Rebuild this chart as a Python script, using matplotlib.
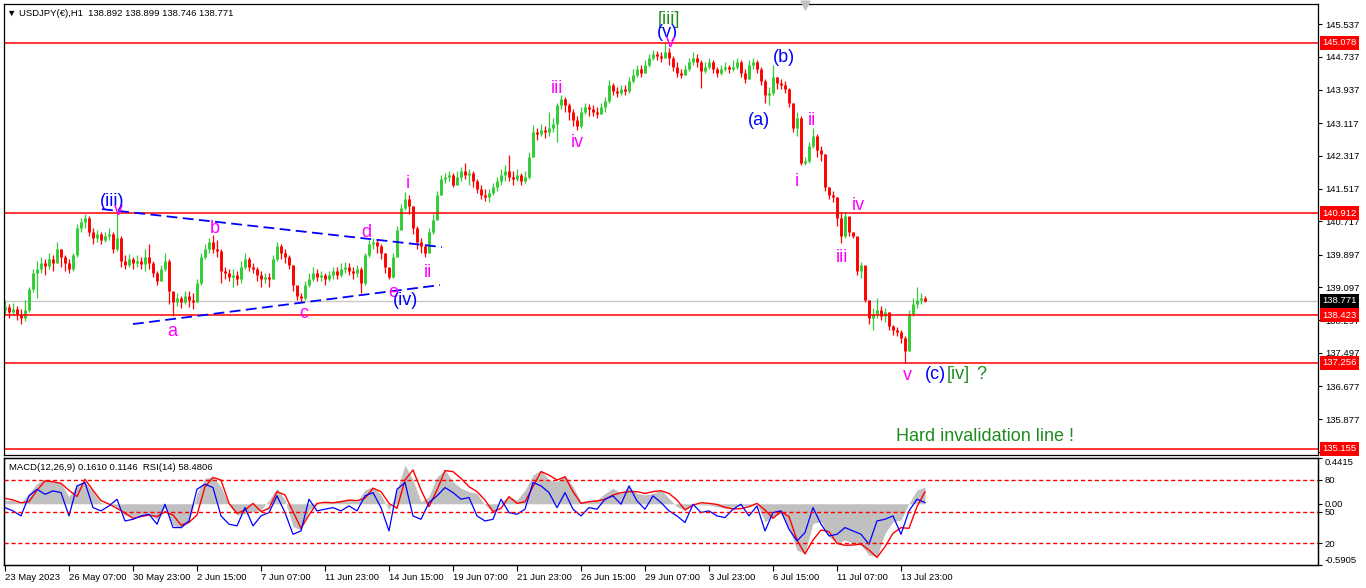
import numpy as np
import matplotlib.pyplot as plt
from matplotlib import transforms

plt.rcParams['font.family'] = ['Liberation Sans', 'DejaVu Sans']

# USDJPY H1 (one bar per ~4 screen px)
first_open = 138.55
close = [138.62, 138.50, 138.58, 138.46, 138.35, 138.55, 139.05, 139.45, 139.55, 139.70,
         139.62, 139.80, 139.70, 140.05, 139.85, 139.70, 139.55, 139.90, 140.55, 140.70,
         140.80, 140.45, 140.30, 140.40, 140.25, 140.35, 140.40, 140.05, 140.30, 139.75,
         139.65, 139.80, 139.70, 139.75, 139.68, 139.85, 139.70, 139.45, 139.25, 139.55,
         139.75, 139.00, 138.75, 138.85, 138.75, 138.90, 138.80, 138.75, 139.20, 139.85,
         140.05, 140.20, 140.05, 140.00, 139.50, 139.45, 139.35, 139.40, 139.30, 139.60,
         139.80, 139.60, 139.55, 139.40, 139.30, 139.35, 139.30, 139.80, 140.10, 139.95,
         139.85, 139.65, 139.15, 138.90, 138.85, 139.15, 139.30, 139.45, 139.35, 139.40,
         139.30, 139.40, 139.50, 139.40, 139.55, 139.60, 139.50, 139.45, 139.55, 139.20,
         139.90, 140.15, 140.20, 140.10, 139.95, 139.60, 139.35, 139.85, 140.50, 141.05,
         141.25, 141.10, 140.55, 140.20, 140.10, 139.95, 140.45, 140.75, 141.35, 141.75,
         141.80, 141.85, 141.60, 141.80, 141.95, 141.85, 141.90, 141.70, 141.50, 141.35,
         141.30, 141.40, 141.55, 141.70, 141.85, 141.95, 141.80, 141.75, 141.85, 141.70,
         141.80, 142.30, 142.90, 142.85, 142.95, 142.90, 143.00, 143.10, 143.55, 143.70,
         143.55, 143.40, 143.20, 143.05, 143.40, 143.50, 143.45, 143.40, 143.35, 143.50,
         143.65, 144.05, 143.90, 143.85, 143.95, 143.90, 144.15, 144.30, 144.45, 144.35,
         144.55, 144.70, 144.80, 144.75, 144.70, 144.85, 144.70, 144.50, 144.35, 144.30,
         144.45, 144.60, 144.70, 144.60, 144.40, 144.50, 144.60, 144.45, 144.35, 144.45,
         144.50, 144.45, 144.50, 144.60, 144.35, 144.20, 144.55, 144.60, 144.45, 144.15,
         143.80, 143.85, 144.25, 144.10, 144.05, 143.95, 143.60, 143.00, 143.25, 142.15,
         142.20, 142.55, 142.80, 142.45, 142.35, 141.55, 141.35, 141.30, 140.80, 140.35,
         140.85, 140.45, 140.35, 139.50, 139.65, 138.80, 138.35, 138.45, 138.55, 138.40,
         138.50, 138.15, 138.05, 138.00, 137.85, 137.55, 138.45, 138.70, 138.80, 138.85,
         138.77]
high = [138.80, 138.70, 138.72, 138.65, 138.58, 138.78, 139.10, 139.55, 139.75, 139.85,
        139.80, 139.95, 139.90, 140.20, 140.05, 139.90, 139.80, 139.95, 140.65, 140.80,
        140.90, 140.85, 140.55, 140.50, 140.45, 140.45, 140.55, 140.45, 140.92, 140.35,
        139.90, 139.92, 139.85, 139.90, 139.85, 140.05, 140.15, 139.75, 139.50, 139.65,
        139.95, 139.80, 138.95, 138.95, 138.90, 139.00, 139.00, 138.95, 139.30, 139.95,
        140.15, 140.30, 140.38, 140.25, 140.05, 139.60, 139.55, 139.55, 139.50, 139.75,
        139.94, 139.85, 139.70, 139.60, 139.50, 139.45, 139.45, 139.90, 140.20, 140.15,
        140.05, 139.90, 139.65, 139.10, 138.95, 139.25, 139.45, 139.60, 139.55, 139.50,
        139.45, 139.50, 139.60, 139.60, 139.70, 139.72, 139.70, 139.60, 139.65, 139.60,
        139.94, 140.25, 140.30, 140.25, 140.15, 139.95, 139.55, 139.95, 140.60, 141.15,
        141.43, 141.35, 141.10, 140.60, 140.30, 140.15, 140.55, 140.90, 141.45, 141.85,
        141.90, 141.95, 141.90, 141.95, 142.05, 142.15, 142.00, 141.95, 141.75, 141.60,
        141.50, 141.50, 141.65, 141.80, 142.00, 142.10, 142.33, 141.95, 142.00, 141.90,
        141.95, 142.40, 143.07, 143.00, 143.10, 143.05, 143.40, 143.25, 143.60, 143.80,
        143.75, 143.60, 143.45, 143.30, 143.50, 143.60, 143.58, 143.55, 143.50, 143.60,
        143.75, 144.17, 144.10, 144.00, 144.05, 144.05, 144.25, 144.45, 144.55, 144.55,
        144.65, 144.80, 144.90, 144.88, 144.85, 145.10, 144.95, 144.75, 144.60, 144.45,
        144.55, 144.70, 144.85, 144.80, 144.65, 144.62, 144.70, 144.65, 144.50, 144.55,
        144.60, 144.55, 144.65, 144.72, 144.65, 144.45, 144.65, 144.70, 144.65, 144.50,
        144.20, 144.00, 144.53, 144.25, 144.20, 144.15, 143.97, 143.60, 143.39, 143.30,
        142.30, 142.65, 143.00, 142.85, 142.55, 142.35, 141.55, 141.45, 141.30, 140.95,
        140.94, 140.60, 140.45, 140.30, 139.72, 139.50, 138.80, 138.60, 138.83, 138.65,
        138.60, 138.50, 138.17, 138.12, 138.05, 137.90, 138.55, 138.85, 139.10, 138.95,
        138.90]
low = [138.45, 138.35, 138.42, 138.30, 138.20, 138.28, 138.50, 138.98, 138.85, 139.45,
       139.40, 139.55, 139.50, 139.70, 139.60, 139.50, 139.45, 139.50, 139.85, 140.45,
       140.55, 140.35, 140.15, 140.20, 140.15, 140.20, 140.25, 139.95, 140.00, 139.60,
       139.55, 139.60, 139.55, 139.60, 139.55, 139.50, 139.55, 139.35, 139.15, 139.25,
       139.50, 138.70, 138.40, 138.65, 138.60, 138.70, 138.62, 138.58, 138.75, 139.15,
       139.80, 139.95, 139.95, 139.85, 139.20, 139.30, 139.25, 139.10, 139.15, 139.20,
       139.55, 139.50, 139.45, 139.25, 139.10, 139.20, 139.10, 139.30, 139.75, 139.80,
       139.70, 139.55, 139.00, 138.80, 138.74, 138.80, 139.10, 139.25, 139.25, 139.25,
       139.15, 139.25, 139.30, 139.30, 139.35, 139.45, 139.40, 139.30, 139.35, 138.96,
       139.15, 139.85, 140.05, 139.95, 139.80, 139.45, 139.30, 139.32, 139.85, 140.50,
       141.00, 140.90, 140.40, 140.05, 139.95, 139.85, 139.95, 140.40, 140.75, 141.35,
       141.65, 141.70, 141.55, 141.60, 141.70, 141.75, 141.60, 141.55, 141.40, 141.25,
       141.20, 141.19, 141.35, 141.45, 141.60, 141.70, 141.70, 141.60, 141.70, 141.60,
       141.65, 141.75, 142.30, 142.70, 142.80, 142.75, 142.80, 142.90, 142.65, 143.45,
       143.40, 143.20, 143.05, 142.94, 143.00, 143.35, 143.30, 143.30, 143.25, 143.35,
       143.40, 143.60, 143.80, 143.75, 143.80, 143.80, 143.85, 144.10, 144.25, 144.25,
       144.35, 144.50, 144.65, 144.65, 144.60, 144.70, 144.55, 144.40, 144.25, 144.22,
       144.30, 144.40, 144.55, 144.50, 143.97, 144.35, 144.45, 144.35, 144.25, 144.30,
       144.40, 144.35, 144.40, 144.45, 144.25, 144.10, 144.20, 144.45, 144.35, 144.05,
       143.60, 143.56, 143.80, 143.95, 143.95, 143.85, 143.50, 142.90, 142.80, 142.09,
       142.09, 142.15, 142.50, 142.30, 142.20, 141.45, 141.25, 141.19, 140.60, 140.18,
       140.30, 140.35, 140.30, 139.40, 139.33, 138.74, 138.20, 138.05, 138.35, 138.30,
       138.25, 138.05, 137.93, 137.90, 137.75, 137.24, 137.55, 138.40, 138.60, 138.70,
       138.75]

# indicator window, sampled every 2nd bar
macd_hist = [0.036, 0.03, 0.01, 0.10, 0.197, 0.236, 0.21, 0.197, 0.069, 0.18,
             0.21, 0.117, 0.01, 0.0, -0.03, -0.108, -0.124, -0.108, -0.09, -0.157,
             -0.03, -0.205, -0.237, -0.172, 0.10, 0.245, 0.26, 0.165, -0.012, -0.108,
             -0.092, -0.076, -0.06, 0.036, 0.15, 0.036, -0.22, -0.253, -0.06, -0.012,
             0.02, 0.02, 0.036, 0.043, 0.02, 0.133, 0.165, 0.085, -0.06, 0.133,
             0.374, 0.229, 0.02, 0.069, 0.26, 0.326, 0.213, 0.15, 0.117, 0.10,
             -0.012, -0.076, 0.02, 0.069, 0.036, 0.133, 0.277, 0.326, 0.229, 0.213,
             0.277, 0.165, 0.02, 0.036, 0.036, 0.10, 0.15, 0.10, 0.165, 0.10,
             0.085, 0.10, 0.133, 0.053, -0.028, -0.06, 0.004, -0.012, -0.012, -0.028,
             -0.044, -0.028, -0.012, -0.028, 0.004, -0.172, -0.124, -0.092, -0.237, -0.446,
             -0.478, -0.188, -0.172, -0.317, -0.382, -0.35, -0.382, -0.398, -0.494, -0.51,
             -0.285, -0.172, -0.156, 0.004, 0.133, 0.161]
macd_signal = [0.053, 0.036, 0.01, 0.02, 0.13, 0.22, 0.213, 0.197, 0.13, 0.07,
               0.236, 0.13, 0.03, -0.002, -0.044, -0.09, -0.14, -0.124, -0.108, -0.124,
               -0.076, -0.108, -0.205, -0.18, -0.108, 0.165, 0.255, 0.229, 0.004, -0.092,
               -0.06, 0.004, -0.076, -0.044, 0.117, 0.085, -0.076, -0.237, -0.108, 0.004,
               0.014, 0.01, 0.02, 0.036, 0.03, 0.053, 0.15, 0.117, 0.004, -0.044,
               0.229, 0.326, 0.133, -0.028, 0.133, 0.32, 0.31, 0.245, 0.165, 0.117,
               0.036, -0.076, -0.044, 0.069, 0.004, 0.02, 0.165, 0.31, 0.277, 0.229,
               0.26, 0.117, 0.004, 0.02, 0.027, 0.043, 0.085, 0.107, 0.117, 0.117,
               0.10, 0.117, 0.126, 0.10, 0.036, -0.06, -0.012, 0.01, 0.004, -0.006,
               -0.034, -0.05, -0.047, -0.028, 0.004, -0.06, -0.14, -0.076, -0.124, -0.35,
               -0.484, -0.35, -0.253, -0.269, -0.382, -0.40, -0.398, -0.388, -0.446, -0.517,
               -0.414, -0.285, -0.23, -0.237, -0.028, 0.115]
rsi = [53.7, 50.6, 45.8, 64.9, 71.2, 66.4, 69.6, 68.0, 45.8, 74.4,
       77.6, 53.7, 50.6, 55.3, 61.7, 41.0, 42.6, 45.8, 47.4, 37.9,
       56.9, 34.7, 34.7, 41.0, 71.2, 76.0, 72.8, 45.8, 37.9, 36.3,
       53.7, 36.3, 45.8, 49.0, 64.9, 49.0, 28.3, 31.5, 61.7, 50.6,
       52.2, 53.7, 50.6, 55.3, 50.6, 64.9, 68.0, 53.7, 31.5, 71.2,
       77.6, 45.8, 42.6, 58.5, 64.9, 72.8, 68.0, 61.7, 63.3, 45.8,
       41.0, 42.6, 61.7, 49.0, 47.4, 52.2, 77.6, 74.4, 68.0, 53.7,
       68.0, 52.2, 45.8, 53.7, 52.2, 61.7, 64.9, 56.9, 74.4, 60.1,
       52.2, 64.9, 58.5, 50.6, 45.8, 39.5, 56.9, 49.0, 50.6, 45.8,
       44.2, 52.2, 56.9, 45.8, 55.3, 31.5, 49.0, 50.6, 33.1, 22.0,
       29.9, 53.7, 37.9, 26.7, 28.3, 34.7, 31.5, 28.3, 18.8, 41.0,
       42.6, 45.8, 28.3, 50.6, 61.7, 58.5]

date_labels = ['23 May 2023', '26 May 07:00', '30 May 23:00', '2 Jun 15:00', '7 Jun 07:00',
               '11 Jun 23:00', '14 Jun 15:00', '19 Jun 07:00', '21 Jun 23:00', '26 Jun 15:00',
               '29 Jun 07:00', '3 Jul 23:00', '6 Jul 15:00', '11 Jul 07:00', '13 Jul 23:00']
date_pos = [0, 16, 32, 48, 64, 80, 96, 112, 128, 144, 160, 176, 192, 208, 224]

price_ticks = [145.537, 144.737, 143.937, 143.117, 142.317, 141.517, 140.717,
               139.897, 139.097, 138.297, 137.497, 136.677, 135.877, 135.077]
levels = [145.078, 140.912, 138.423, 137.256, 135.155]
last_price = 138.771

MAG = '#ff00ff'
BLUE = '#0000ff'
GREEN = '#1e8c1e'
UP = '#32cd32'
DOWN = '#ff0000'
FS = 6.8

W, H = 1366, 588
fig = plt.figure(figsize=(W / 100, H / 100), dpi=100)


def px_box(x0, y0, x1, y1):
    return [x0 / W, 1 - y1 / H, (x1 - x0) / W, (y1 - y0) / H]


ax = fig.add_axes(px_box(4, 4, 1318, 455))
axi = fig.add_axes(px_box(4, 458, 1318, 565), sharex=ax)

# ---- candles ----
c = np.array(close)
o = np.array([first_open] + close[:-1])
x = np.arange(len(c))
cols = np.where(c >= o, UP, DOWN)
ax.vlines(x, low, high, colors=cols, lw=0.9)
ax.vlines(x, np.minimum(o, c), np.maximum(o, c), colors=cols, lw=2.1)

ax.set_xlim(-0.25, 328.25)
ax.set_ylim(135.0, 146.03)

ytr = transforms.blended_transform_factory(ax.transAxes, ax.transData)
ax.axhline(last_price, color='#c8c8c8', lw=1, zorder=0)
for lv in levels:
    ax.axhline(lv, color='red', lw=1.1)

ax.yaxis.tick_right()
ax.set_yticks(price_ticks)
ax.set_yticklabels([f'{v:.3f}' for v in price_ticks])
ax.tick_params(axis='y', length=3, width=0.8, pad=2, labelsize=FS)
ax.tick_params(axis='x', bottom=False, labelbottom=False)

for lv in levels:
    ax.text(1.0035, lv, f'{lv:.3f}', transform=ytr, ha='left', va='center',
            color='white', fontsize=FS, clip_on=False,
            bbox=dict(boxstyle='square,pad=0.25', fc='red', ec='none'))
ax.text(1.0035, last_price, f'{last_price:.3f}', transform=ytr, ha='left', va='center',
        color='white', fontsize=FS, clip_on=False,
        bbox=dict(boxstyle='square,pad=0.25', fc='black', ec='none'))

# triangle (contracting) lines
ax.plot([24.25, 109.25], [141.014, 140.085], color=BLUE, lw=1.3, ls=(0, (6, 3)))
ax.plot([32.0, 108.75], [138.202, 139.156], color=BLUE, lw=1.3, ls=(0, (6, 3)))

# wave labels
wave_labels = [
    ('(iii)', 26.75, 141.21, BLUE), ('v', 28.25, 140.99, MAG),
    ('a', 41.75, 138.03, MAG), ('b', 52.5, 140.55, MAG),
    ('c', 74.75, 138.47, MAG), ('d', 90.25, 140.45, MAG),
    ('e', 97.0, 138.98, MAG), ('(iv)', 100.25, 138.79, BLUE),
    ('i', 100.75, 141.65, MAG), ('ii', 105.75, 139.47, MAG),
    ('iii', 138.0, 143.97, MAG), ('iv', 143.0, 142.65, MAG),
    ('[iii]', 166.0, 145.66, GREEN), ('(v)', 165.5, 145.34, BLUE),
    ('v', 166.25, 145.10, MAG), ('(b)', 194.75, 144.73, BLUE),
    ('(a)', 188.5, 143.19, BLUE), ('i', 198.0, 141.70, MAG),
    ('ii', 201.75, 143.17, MAG), ('iv', 213.25, 141.11, MAG),
    ('iii', 209.25, 139.84, MAG), ('v', 225.5, 136.95, MAG),
]
for txt, xi, yi, col in wave_labels:
    ax.text(xi, yi, txt, color=col, fontsize=13, ha='center', va='center')
ax.text(230.0, 136.98, '(c)', color=BLUE, fontsize=13, ha='left', va='center')
ax.text(235.5, 136.98, '[iv]', color=GREEN, fontsize=13, ha='left', va='center')
ax.text(242.75, 136.98, '?', color=GREEN, fontsize=13, ha='left', va='center')
ax.text(245.0, 135.46, 'Hard invalidation line !', color=GREEN, fontsize=13,
        ha='center', va='center')

xtr = transforms.blended_transform_factory(ax.transData, ax.transAxes)
ax.scatter([200], [0.997], transform=xtr, marker='v', s=40, color='#c0c0c0',
           clip_on=False, zorder=5)

# ---- MACD + RSI window ----
ix = np.arange(0, len(c), 2)
axi.fill_between(ix, 0, macd_hist, color='#c0c0c0', lw=0)
axi.plot(ix, macd_signal, color='red', lw=1)
axi.set_ylim(-0.5905, 0.4415)

axr = axi.twinx()
axr.plot(ix, rsi, color=BLUE, lw=0.9)
for lv in (80, 50, 20):
    axr.axhline(lv, color='red', lw=1, ls=(0, (3, 2)))
axr.set_ylim(-0.95, 100.95)
axr.set_yticks([20, 50, 80])
axr.tick_params(axis='y', length=3, width=0.8, pad=2, labelsize=FS)

# twinx moves the first axis' ticks to the left, put them back on the right
axi.yaxis.tick_right()
axi.set_yticks([-0.5905, 0.0, 0.4415])
axi.set_yticklabels(['-0.5905', '0.00', '0.4415'])
for lbl in axi.get_yticklabels():
    if lbl.get_text() == '0.4415':
        lbl.set_va('top')
    elif lbl.get_text() == '-0.5905':
        lbl.set_va('bottom')
axi.tick_params(axis='y', length=3, width=0.8, pad=2, labelsize=FS)

axi.set_xticks(date_pos)
axi.set_xticklabels(date_labels, ha='left')
axi.tick_params(axis='x', length=4, width=0.8, pad=2, labelsize=FS)

for a in (ax, axi, axr):
    for s in a.spines.values():
        s.set_linewidth(0.9)
        s.set_color('black')

fig.text(7 / W, 1 - 13 / H, '\u25bc USDJPY(\u20ac),H1  138.892 138.899 138.746 138.771',
         fontsize=FS, va='center')
fig.text(9 / W, 1 - 467 / H, 'MACD(12,26,9) 0.1610 0.1146  RSI(14) 58.4806',
         fontsize=FS, va='center')

fig.savefig('out.png', dpi=100, facecolor='white')
